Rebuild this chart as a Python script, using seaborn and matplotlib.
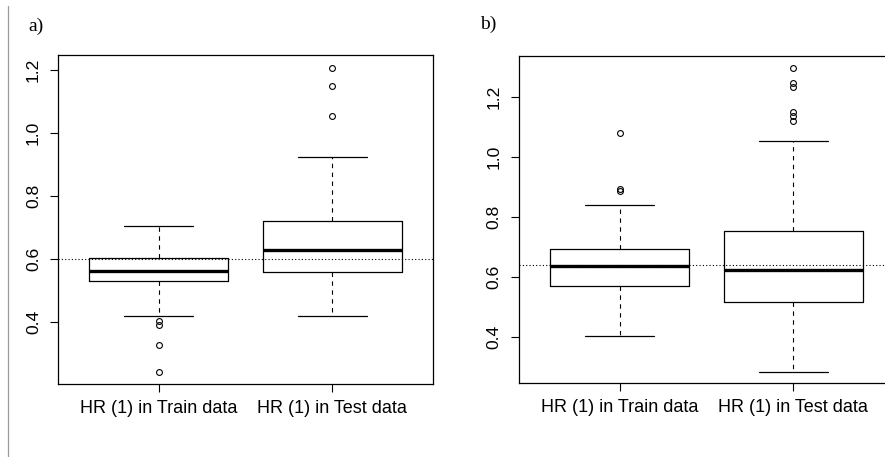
import numpy as np
import pandas as pd
import matplotlib
matplotlib.use("Agg")
import matplotlib.pyplot as plt
import seaborn as sns
from matplotlib.lines import Line2D

# ---------------- data ----------------
groups = ["HR (1) in Train data", "HR (1) in Test data"]

# panel a)
a_q1 = [0.530, 0.558]
a_median = [0.563, 0.628]
a_q3 = [0.604, 0.721]
a_whisk_lo = [0.420, 0.419]
a_whisk_hi = [0.704, 0.924]
a_outliers = [[0.242, 0.328, 0.390, 0.403], [1.055, 1.151, 1.208]]
a_ref = 0.600

# panel b)
b_q1 = [0.569, 0.515]
b_median = [0.637, 0.622]
b_q3 = [0.694, 0.753]
b_whisk_lo = [0.402, 0.283]
b_whisk_hi = [0.840, 1.053]
b_outliers = [[0.888, 0.894, 1.082], [1.120, 1.138, 1.152, 1.233, 1.247, 1.299]]
b_ref = 0.638

yticks = [0.4, 0.6, 0.8, 1.0, 1.2]
panel_labels = ["a)", "b)"]


def sample_from_summary(q1, med, q3, lo, hi, outs):
    """Build a sample whose quartiles, whiskers and outliers equal the given summary."""
    low = sorted([o for o in outs if o < q1]) + [lo]
    up = [hi] + sorted([o for o in outs if o > q3])
    k = max(len(low), len(up))
    vals = (low + [q1] * (k - len(low)) + [q1] + [med] * (k - 1) + [med]
            + [med] * (k - 1) + [q3] + [q3] * (k - len(up)) + up)
    return vals


def build_df(q1s, meds, q3s, los, his, outs):
    rows = []
    for g, q1, m, q3, lo, hi, o in zip(groups, q1s, meds, q3s, los, his, outs):
        for v in sample_from_summary(q1, m, q3, lo, hi, o):
            rows.append((g, v))
    return pd.DataFrame(rows, columns=["group", "value"])


df_a = build_df(a_q1, a_median, a_q3, a_whisk_lo, a_whisk_hi, a_outliers)
df_b = build_df(b_q1, b_median, b_q3, b_whisk_lo, b_whisk_hi, b_outliers)

# ---------------- figure ----------------
sns.set_theme(style="white")
plt.rcParams["font.family"] = ["Liberation Sans", "DejaVu Sans"]

W, H = 885, 457
fig = plt.figure(figsize=(W / 100, H / 100), dpi=100)
fig.patch.set_facecolor("white")


def px_axes(left, top, right, bottom):
    return fig.add_axes([left / W, 1 - bottom / H, (right - left) / W, (bottom - top) / H])


ax_a = px_axes(58, 55, 433, 384)
ax_b = px_axes(518.8, 55.7, 894.2, 383.3)

specs = [
    (ax_a, df_a, a_ref, (0.203, 1.2486)),
    (ax_b, df_b, b_ref, (0.2443, 1.339)),
]

for ax, df, ref, ylim in specs:
    sns.boxplot(
        data=df, x="group", y="value", order=groups, ax=ax,
        fill=False, color="black", linecolor="black", linewidth=0.9,
        width=0.8, whis=1.5, fliersize=4.2,
        medianprops=dict(color="black", linewidth=2.4),
        whiskerprops=dict(color="black", linewidth=0.8, linestyle=(0, (4, 4))),
        capprops=dict(color="black", linewidth=0.9),
        boxprops=dict(color="black", linewidth=0.9),
        flierprops=dict(marker="o", markerfacecolor="none", markeredgecolor="black",
                        markeredgewidth=0.8),
    )
    ax.axhline(ref, color="black", linewidth=0.8, linestyle=(0, (1, 2)), zorder=5)
    ax.set_xlim(-0.58, 1.58)
    ax.set_ylim(*ylim)
    ax.set_yticks(yticks)
    ax.set_yticklabels([f"{t:.1f}" for t in yticks], rotation=90, va="center")
    ax.set_xlabel("")
    ax.set_ylabel("")
    ax.tick_params(axis="both", which="both", direction="out", length=5.8, width=0.8,
                   color="black", labelsize=12.6, labelcolor="black", pad=5.5,
                   left=True, bottom=True)
    ax.tick_params(axis="x", labelsize=13.0)
    ax.tick_params(axis="y", pad=6.5)
    for s in ax.spines.values():
        s.set_visible(True)
        s.set_color("black")
        s.set_linewidth(0.9)
    ax.set_facecolor("white")

fig.text(28 / W, 1 - 31 / H, panel_labels[0], family=["Liberation Serif", "DejaVu Serif"],
         fontsize=14, ha="left", va="baseline", color="black")
fig.text(480 / W, 1 - 29 / H, panel_labels[1], family=["Liberation Serif", "DejaVu Serif"],
         fontsize=14, ha="left", va="baseline", color="black")

fig.add_artist(Line2D([8.3 / W, 8.3 / W], [0, 1 - 6 / H], transform=fig.transFigure,
                      color="#9a9a9a", linewidth=0.9))

fig.savefig("out.png", dpi=100, facecolor="white")
